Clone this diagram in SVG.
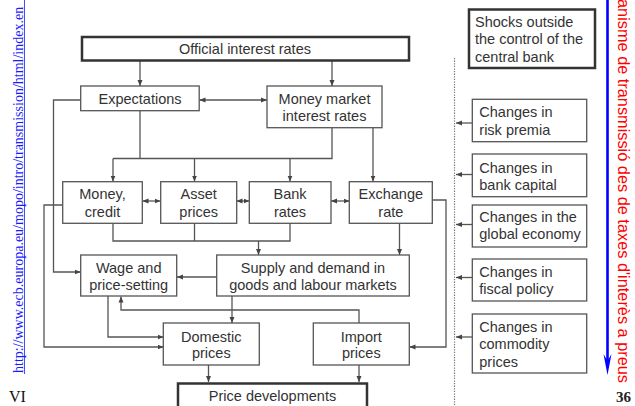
<svg xmlns="http://www.w3.org/2000/svg" width="635" height="406" viewBox="0 0 635 406">
<defs>
<style>
.box{fill:#fff;stroke:#555;stroke-width:1.3}
.thick{fill:#fff;stroke:#333;stroke-width:2.5}
.t{font-family:"Liberation Sans",Arial,sans-serif;font-size:14.5px;fill:#333}
.c{text-anchor:middle}
.ln{fill:none;stroke:#555;stroke-width:1.3}
.ar{marker-end:url(#ah)}
.dbl{marker-start:url(#ah);marker-end:url(#ah)}
</style>
<marker id="ah" viewBox="0 0 6 6" refX="6" refY="3" markerWidth="6" markerHeight="6" markerUnits="userSpaceOnUse" orient="auto-start-reverse">
<path d="M0,0.5 L6,3 L0,5.5 z" fill="#444"/>
</marker>
</defs>
<rect width="635" height="406" fill="#fff"/>

<!-- side annotations -->
<g id="url">
<text transform="translate(22.5,373) rotate(-90)" font-family="Liberation Serif,'Times New Roman',serif" font-size="14" fill="#1a1aff">http://www.ecb.europa.eu/mopo/intro/transmission/html/index.en</text>
<line x1="24.5" y1="0" x2="24.5" y2="374" stroke="#1a1aff" stroke-width="0.8"/>
</g>
<text id="vi" x="9" y="401.5" font-family="Liberation Serif,'Times New Roman',serif" font-size="16" fill="#111">VI</text>
<text id="pagenum" x="631" y="401.5" text-anchor="end" font-family="Liberation Serif,'Times New Roman',serif" font-size="15" font-weight="bold" fill="#222">36</text>
<g id="sidearrow">
<line x1="607.5" y1="0" x2="607.5" y2="362" stroke="#0000ff" stroke-width="2.6"/>
<path d="M603.5,354 L607.5,375 L611.5,354 L607.5,361 z" fill="#0000ff"/>
</g>
<text id="sidetitle" transform="translate(617.5,383) rotate(90)" text-anchor="end" textLength="384" lengthAdjust="spacingAndGlyphs" font-family="Liberation Sans,Arial,sans-serif" font-size="16" fill="#ff0000">anisme de transmissió des de taxes d'interès a preus</text>

<!-- connectors -->
<g id="connectors">
<path class="ln ar" d="M140,61 V86"/>
<path class="ln ar" d="M332,61 V86"/>
<path class="ln dbl" d="M199.5,100 H267"/>
<path class="ln ar" d="M80.5,100 H53.5 V272 H80.5"/>
<path class="ln" d="M140,111 V158.5"/>
<path class="ln" d="M332,128 V158.5 H113"/>
<path class="ln ar" d="M113,158.5 V181.5"/>
<path class="ln ar" d="M194.5,158.5 V181.5"/>
<path class="ln ar" d="M290,158.5 V181.5"/>
<path class="ln ar" d="M373,128 V181.5"/>
<path class="ln dbl" d="M142.5,201 H160.5"/>
<path class="ln dbl" d="M236.5,201 H249.5"/>
<path class="ln dbl" d="M331,201 H349.5"/>
<path class="ln" d="M113,223 V241 H290 V223"/>
<path class="ln" d="M194.5,223 V241"/>
<path class="ln ar" d="M258.5,241 V255"/>
<path class="ln ar" d="M399.5,223 V255"/>
<path class="ln ar" d="M62.5,205 H44 V347 H163.5"/>
<path class="ln ar" d="M432.5,200 H446 V347 H409.5"/>
<path class="ln ar" d="M216.5,277 H177"/>
<path class="ln ar" d="M232,296 V323"/>
<path class="ln ar" d="M359,323 V310 H121 V296.5"/>
<path class="ln ar" d="M108,296 V337 H163.5"/>
<path class="ln ar" d="M208.5,365 V382"/>
<path class="ln ar" d="M359,365 V382"/>
<path class="ln ar" d="M472.5,123 H456"/>
<path class="ln ar" d="M472.5,174.5 H456"/>
<path class="ln ar" d="M472.5,224.5 H456"/>
<path class="ln ar" d="M472.5,277.5 H456"/>
<path class="ln ar" d="M472.5,337 H456"/>
<path d="M454.5,58 V406" fill="none" stroke="#777" stroke-width="1.2" stroke-dasharray="1.3 1.3"/>
</g>

<!-- nodes -->
<g id="official">
<rect class="thick" x="82" y="37" width="327" height="23.5"/>
<text class="t c" x="245" y="54">Official interest rates</text>
</g>
<g id="shocks">
<rect class="thick" x="469" y="9.5" width="126" height="58.5"/>
<text class="t" x="475" y="26.5">Shocks outside</text>
<text class="t" x="475" y="44">the control of the</text>
<text class="t" x="475" y="61.5">central bank</text>
</g>
<g id="expectations">
<rect class="box" x="80.7" y="86" width="118.5" height="24.7"/>
<text class="t c" x="140" y="103.5">Expectations</text>
</g>
<g id="moneymarket">
<rect class="box" x="267" y="86" width="115" height="41.7"/>
<text class="t c" x="324.5" y="104">Money market</text>
<text class="t c" x="324.5" y="121">interest rates</text>
</g>
<g id="moneycredit">
<rect class="box" x="62.7" y="181.7" width="79.6" height="41.6"/>
<text class="t c" x="102.5" y="199.3">Money,</text>
<text class="t c" x="102.5" y="216.7">credit</text>
</g>
<g id="assetprices">
<rect class="box" x="160.7" y="181.7" width="76" height="41.6"/>
<text class="t c" x="198.7" y="199.3">Asset</text>
<text class="t c" x="198.7" y="216.7">prices</text>
</g>
<g id="bankrates">
<rect class="box" x="249.3" y="181.7" width="81.7" height="41.6"/>
<text class="t c" x="290" y="199.3">Bank</text>
<text class="t c" x="290" y="216.7">rates</text>
</g>
<g id="exchangerate">
<rect class="box" x="349.3" y="181.7" width="83" height="41.6"/>
<text class="t c" x="390.8" y="199.3">Exchange</text>
<text class="t c" x="390.8" y="216.7">rate</text>
</g>
<g id="wage">
<rect class="box" x="80.7" y="255" width="96" height="41"/>
<text class="t c" x="128.7" y="272.7">Wage and</text>
<text class="t c" x="128.7" y="290">price-setting</text>
</g>
<g id="supply">
<rect class="box" x="216.7" y="255" width="192.6" height="41"/>
<text class="t c" x="313" y="272.7">Supply and demand in</text>
<text class="t c" x="313" y="290">goods and labour markets</text>
</g>
<g id="domestic">
<rect class="box" x="163.3" y="323" width="96" height="42"/>
<text class="t c" x="211.3" y="341.7">Domestic</text>
<text class="t c" x="211.3" y="358.3">prices</text>
</g>
<g id="import">
<rect class="box" x="313.3" y="323" width="96" height="42"/>
<text class="t c" x="361.3" y="341.7">Import</text>
<text class="t c" x="361.3" y="358.3">prices</text>
</g>
<g id="pricedev">
<rect class="thick" x="178" y="383.5" width="189" height="30"/>
<text class="t c" x="272.5" y="400.7">Price developments</text>
</g>
<g id="riskpremia">
<rect class="box" x="472.3" y="99.3" width="114.4" height="42.4"/>
<text class="t" x="479.3" y="117.3">Changes in</text>
<text class="t" x="479.3" y="134.5">risk premia</text>
</g>
<g id="bankcapital">
<rect class="box" x="472.3" y="154" width="114.4" height="42.7"/>
<text class="t" x="479.3" y="172.5">Changes in</text>
<text class="t" x="479.3" y="189.5">bank capital</text>
</g>
<g id="global">
<rect class="box" x="472.3" y="205" width="114.4" height="42"/>
<text class="t" x="479.3" y="222">Changes in the</text>
<text class="t" x="479.3" y="239">global economy</text>
</g>
<g id="fiscal">
<rect class="box" x="472.3" y="259" width="114.4" height="42"/>
<text class="t" x="479.3" y="276.7">Changes in</text>
<text class="t" x="479.3" y="294">fiscal policy</text>
</g>
<g id="commodity">
<rect class="box" x="472.3" y="314" width="114.4" height="59"/>
<text class="t" x="479.3" y="331.7">Changes in</text>
<text class="t" x="479.3" y="349">commodity</text>
<text class="t" x="479.3" y="366.5">prices</text>
</g>
</svg>
